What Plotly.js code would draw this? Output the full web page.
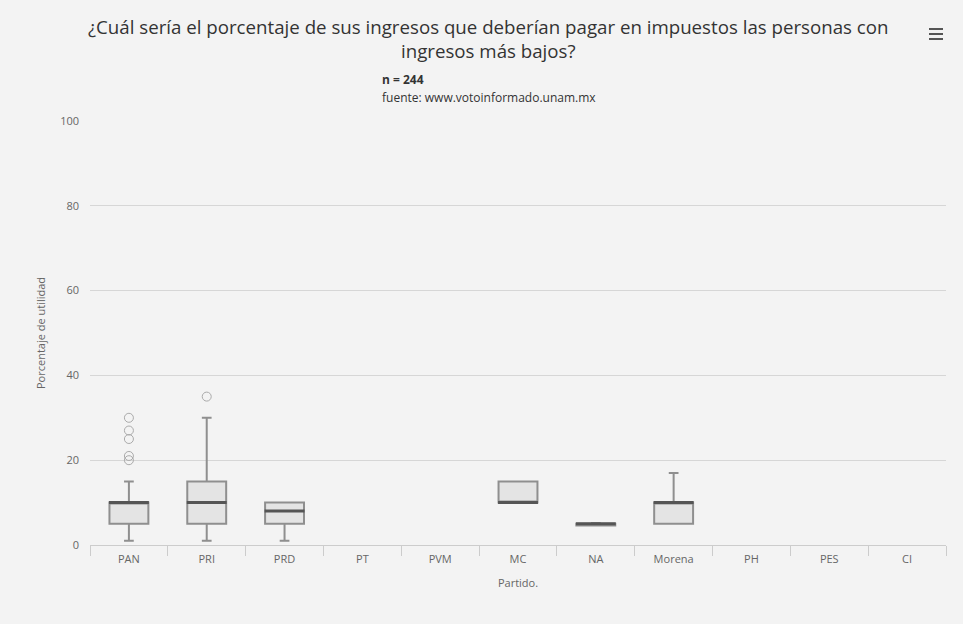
<!DOCTYPE html>
<html><head><meta charset="utf-8">
<script src="https://cdn.plot.ly/plotly-3.0.1.min.js"></script>
<style>html,body{margin:0;padding:0;background:#f3f3f3}</style>
</head><body>
<div id="chart" style="width:963px;height:624px"></div>
<script>
const categories = ["PAN","PRI","PRD","PT","PVM","MC","NA","Morena","PH","PES","CI"];
const boxParties = ["PAN","PRI","PRD","MC","NA","Morena"];
const lowerFence = [1, 1, 1, 10, 4.6, 5];
const q1Values   = [5, 5, 5, 10, 4.6, 5];
const medians    = [10, 10, 8, 10, 5, 10];
const q3Values   = [10, 15, 10, 15, 5, 10];
const upperFence = [15, 30, 10, 15, 5.2, 17];
const outlierParty = ["PAN","PAN","PAN","PAN","PAN","PRI"];
const outlierValue = [30, 27, 25, 21, 20, 35];
const yTicks = [0, 20, 40, 60, 80, 100];
const titleLines = ["¿Cuál sería el porcentaje de sus ingresos que deberían pagar en impuestos las personas con", "ingresos más bajos?"];

const tickFont = {family: "Open Sans, DejaVu Sans, sans-serif", size: 11, color: "#666"};
const PH = 424, PW = 856, T = 121, L = 90;
const py = px => 1 + (T - px) / PH;
const pxx = px => (px - L) / PW;

const traces = [
  {
    type: "box", x: boxParties, q1: q1Values, median: medians, q3: q3Values,
    lowerfence: lowerFence, upperfence: upperFence,
    boxpoints: false, width: 0.5, whiskerwidth: 0.25,
    fillcolor: "#e4e4e4", line: {color: "#8f8f8f", width: 2},
    hoverinfo: "skip", showlegend: false
  },
  {
    type: "scatter", mode: "markers", x: boxParties, y: medians,
    marker: {symbol: "line-ew-open", size: 28.5, color: "#555", line: {color: "#555", width: 3}},
    hoverinfo: "skip", showlegend: false
  },
  {
    type: "scatter", mode: "markers", x: outlierParty, y: outlierValue,
    marker: {symbol: "circle-open", size: 9, color: "#aaa", line: {color: "#aaa", width: 1}},
    hoverinfo: "skip", showlegend: false
  }
];

const titleFont = {family: "Open Sans, sans-serif", size: 18.7, color: "#333"};
const subFont = {family: "Open Sans, sans-serif", size: 12, color: "#333"};

const layout = {
  width: 963, height: 624,
  paper_bgcolor: "#f3f3f3", plot_bgcolor: "#f3f3f3",
  margin: {l: L, r: 17, t: T, b: 79},
  xaxis: {
    type: "category", categoryorder: "array", categoryarray: categories,
    range: [-0.5, categories.length - 0.5],
    tickson: "boundaries", ticks: "outside", ticklen: 10, tickcolor: "#ccc",
    showgrid: false, showline: true, linecolor: "#ccc", linewidth: 1,
    tickfont: tickFont, zeroline: false, fixedrange: true, ticklabelstandoff: 4,
    title: {text: "Partido.", font: tickFont, standoff: 14}
  },
  yaxis: {
    range: [0, 100], tickvals: yTicks, ticktext: yTicks.map(String),
    showgrid: true, gridcolor: "#d6d6d6", zeroline: false, showline: false,
    tickfont: tickFont, ticks: "", ticklabelstandoff: 10, fixedrange: true,
    title: {text: "Porcentaje de utilidad", font: tickFont, standoff: 12}
  },
  annotations: [
    {text: titleLines.join("<br>"), xref: "paper", yref: "paper", x: pxx(488), y: py(38),
     xanchor: "center", yanchor: "middle", align: "center", showarrow: false, font: titleFont},
    {text: "<b>n = 244</b>", xref: "paper", yref: "paper", x: pxx(380), y: py(80),
     xanchor: "left", yanchor: "middle", showarrow: false, font: subFont},
    {text: "fuente: www.votoinformado.unam.mx", xref: "paper", yref: "paper", x: pxx(380), y: py(98),
     xanchor: "left", yanchor: "middle", showarrow: false, font: subFont},
  ],
  shapes: [0, 1, 2].map(i => ({
    type: "rect", xref: "paper", yref: "paper",
    x0: pxx(929), x1: pxx(943),
    y0: py(28 + i*5), y1: py(30 + i*5),
    fillcolor: "#555", line: {width: 0}
  }))
};

Plotly.newPlot("chart", traces, layout, {displayModeBar: false, staticPlot: true});
</script>
</body></html>
